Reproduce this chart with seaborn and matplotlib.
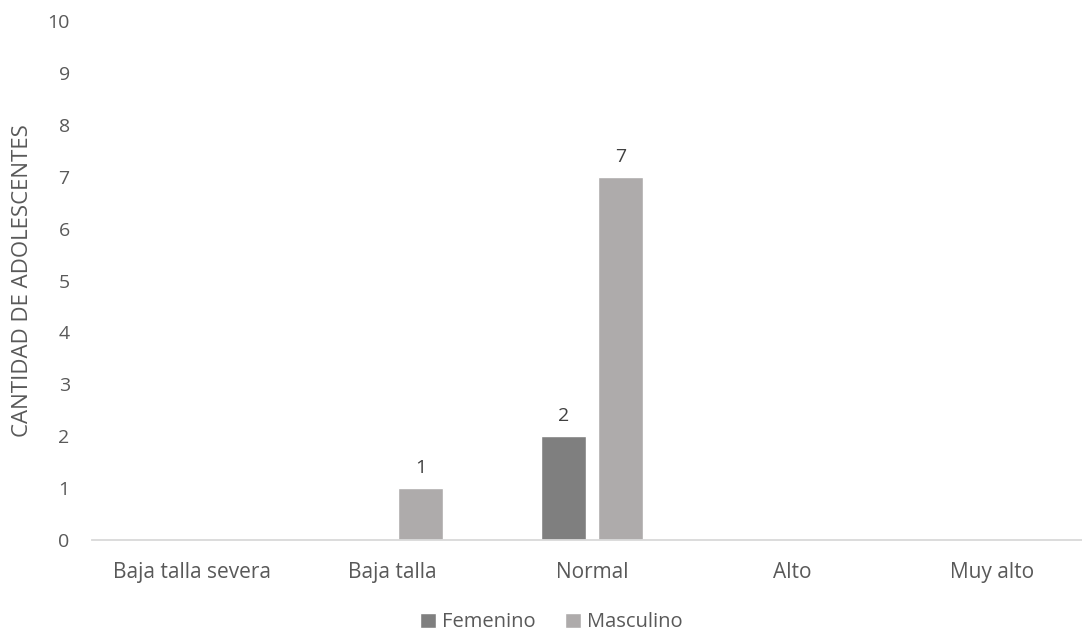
import matplotlib
matplotlib.use("Agg")
import matplotlib.pyplot as plt
import seaborn as sns
import pandas as pd

categorias = ["Baja talla severa", "Baja talla", "Normal", "Alto", "Muy alto"]
femenino = [0, 0, 2, 0, 0]
masculino = [0, 1, 7, 0, 0]
series = ["Femenino", "Masculino"]
colores = ["#7f7f7f", "#aeabab"]

df = pd.DataFrame({
    "categoria": categorias * 2,
    "sexo": [series[0]] * len(categorias) + [series[1]] * len(categorias),
    "cantidad": femenino + masculino,
})

sns.set_theme(style="white")
plt.rcParams["font.family"] = ["Open Sans", "DejaVu Sans"]

fig = plt.figure(figsize=(10.82, 6.34), dpi=100)
ax = fig.add_axes([0.085, 0.148, 0.915, 0.819])

sns.barplot(data=df, x="categoria", y="cantidad", hue="sexo", order=categorias,
            hue_order=series, palette=colores, width=0.57, gap=0.21,
            saturation=1, errorbar=None, ax=ax, legend=True)

for cont in ax.containers:
    vals = cont.datavalues
    ax.bar_label(cont, labels=[f"{v:g}" if v > 0 else "" for v in vals],
                 padding=8, fontsize=14, color="#404040")

ax.set_ylim(0, 10)
ax.set_xlim(-0.5, 4.45)
ax.set_yticks(range(0, 11))
ax.tick_params(axis="y", length=0, labelsize=14, colors="#595959", pad=16)
ax.tick_params(axis="x", length=0, labelsize=15, colors="#595959", pad=16)
ax.set_xlabel("")
ax.set_ylabel("CANTIDAD DE ADOLESCENTES", fontsize=16, color="#595959")
ax.yaxis.set_label_coords(-(92 - 33) / 990, 0.5)

for s in ["top", "right", "left"]:
    ax.spines[s].set_visible(False)
ax.spines["bottom"].set_color("#d9d9d9")
ax.spines["bottom"].set_linewidth(1.3)
ax.grid(False)

handles, labels = ax.get_legend_handles_labels()
ax.legend(handles, labels, loc="center", bbox_to_anchor=(0.464, -0.158),
          ncol=2, frameon=False, fontsize=14.5, handlelength=0.75,
          handleheight=0.75, handletextpad=0.3, columnspacing=1.5,
          labelcolor="#595959", borderpad=0.2)

fig.savefig("out.png", dpi=100)
